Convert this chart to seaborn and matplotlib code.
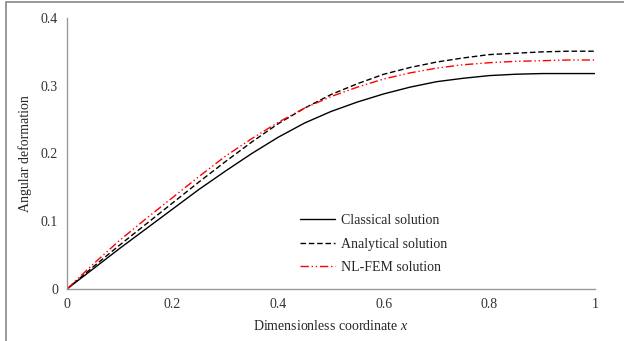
import numpy as np
import pandas as pd
import matplotlib
matplotlib.use("Agg")
import matplotlib.pyplot as plt
import seaborn as sns
from matplotlib.patches import Rectangle
from matplotlib.lines import Line2D

# data
x = [0, 0.05, 0.1, 0.15, 0.2, 0.25, 0.3, 0.35, 0.4, 0.45, 0.5,
     0.55, 0.6, 0.65, 0.7, 0.75, 0.8, 0.85, 0.9, 0.95, 1.0]
classical = [0, 0.030, 0.060, 0.089, 0.118, 0.147, 0.174, 0.200, 0.224, 0.245, 0.262,
             0.276, 0.288, 0.298, 0.306, 0.311, 0.315, 0.317, 0.318, 0.318, 0.318]
analytical = [0, 0.033, 0.065, 0.096, 0.127, 0.158, 0.188, 0.217, 0.244, 0.267, 0.287,
              0.303, 0.317, 0.327, 0.335, 0.341, 0.346, 0.348, 0.350, 0.351, 0.351]
nlfem = [0, 0.037, 0.072, 0.104, 0.135, 0.166, 0.196, 0.222, 0.246, 0.267, 0.284,
         0.298, 0.310, 0.319, 0.326, 0.331, 0.334, 0.336, 0.337, 0.338, 0.338]
labels = ["Classical solution", "Analytical solution", "NL-FEM solution"]

df = pd.DataFrame({"x": x * 3,
                   "y": classical + analytical + nlfem,
                   "series": [labels[0]] * len(x) + [labels[1]] * len(x) + [labels[2]] * len(x)})

sns.set_style("white")
plt.rcParams["font.family"] = ["Liberation Serif", "DejaVu Serif"]
plt.rcParams["mathtext.fontset"] = "custom"
plt.rcParams["mathtext.it"] = "Liberation Serif:italic"
plt.rcParams["mathtext.rm"] = "Liberation Serif"

fig = plt.figure(figsize=(6.24, 3.41), dpi=100)
ax = fig.add_axes([67 / 624, 1 - 289 / 341, 528 / 624, 271 / 341])

palette = {labels[0]: "black", labels[1]: "black", labels[2]: "red"}
sns.lineplot(data=df, x="x", y="y", hue="series", palette=palette, ax=ax, legend=False, lw=1.0)
lines = ax.get_lines()
lines[1].set_dashes([4, 2])
lines[2].set_dashes([6, 2, 1, 2, 1, 2])

ax.set_xlim(0, 1)
ax.set_ylim(0, 0.4)
ax.set_xticks([0, 0.2, 0.4, 0.6, 0.8, 1])
ax.set_xticklabels(["0", "0.2", "0.4", "0.6", "0.8", "1"])
ax.set_yticks([0, 0.1, 0.2, 0.3, 0.4])
ax.set_yticklabels(["0", "0.1", "0.2", "0.3", "0.4"])
ax.tick_params(axis="both", labelsize=10, colors="#333333", length=3, width=0.8, direction="out")
ax.tick_params(axis="both", color="#999999")
for s in ["top", "right"]:
    ax.spines[s].set_visible(False)
for s in ["left", "bottom"]:
    ax.spines[s].set_color("#999999")
    ax.spines[s].set_linewidth(1)

ax.set_xlabel("Dimensionless coordinate $\\mathit{x}$", fontsize=10, labelpad=6)
ax.set_ylabel("Angular deformation", fontsize=10, labelpad=6)

handles = [Line2D([], [], color="black", lw=1.0),
           Line2D([], [], color="black", lw=1.0, dashes=[4, 2]),
           Line2D([], [], color="red", lw=1.0, dashes=[6, 2, 1, 2, 1, 2])]
ax.legend(handles, labels, frameon=False, fontsize=10, loc="center left",
          bbox_to_anchor=(0.441, 0.166), borderpad=0, borderaxespad=0,
          handlelength=2.5, labelspacing=0.76, handletextpad=0.45)

fig.patches.append(Rectangle((6 / 624, -0.2), 2, 1.2 - 2 / 341, transform=fig.transFigure,
                             fill=False, edgecolor="#888888", lw=1.2))

fig.savefig("out.png", dpi=100)
